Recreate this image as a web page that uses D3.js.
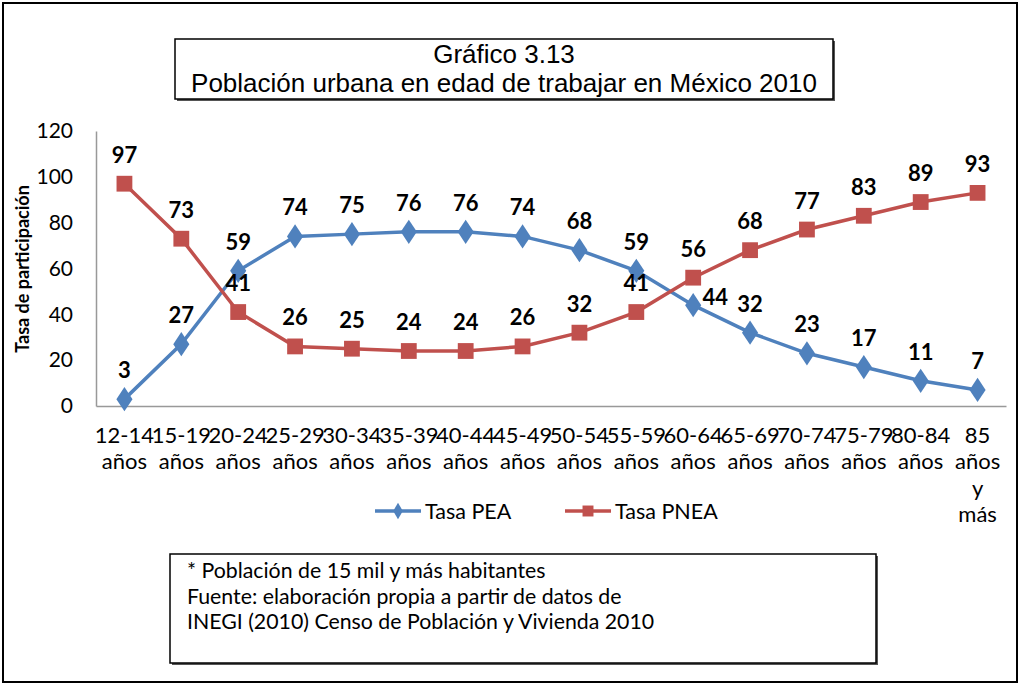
<!DOCTYPE html>
<html>
<script src='https://d3js.org/d3.v7.min.js'></script>
<style>
body {margin: 0; background: white;}
text {font-family: Lato, 'Open Sans', sans-serif; fill: black;}
.title {font-family: 'Liberation Sans', Arial, sans-serif; font-size: 26px;}
</style>
<body onload='init()'>
<script>
var categorias = ['12-14|años','15-19|años','20-24|años','25-29|años','30-34|años','35-39|años','40-44|años','45-49|años',
  '50-54|años','55-59|años','60-64|años','65-69|años','70-74|años','75-79|años','80-84|años','85|años|y|más'];
var tasaPEA  = [3,27,59,74,75,76,76,74,68,59,44,32,23,17,11,7];
var tasaPNEA = [97,73,41,26,25,24,24,26,32,41,56,68,77,83,89,93];
var yTicks = [0,20,40,60,80,100,120];
var notas = ['* Población de 15 mil y más habitantes',
  'Fuente: elaboración propia a partir de datos de',
  'INEGI (2010) Censo de Población y Vivienda 2010'];

function init() {

var svg = d3.select('body')
.append('svg')
.attr('width', 1020)
.attr('height', 684);

// marco exterior
svg.append('rect')
.attr('x', 3).attr('y', 3).attr('width', 1014).attr('height', 679)
.attr('fill', 'white').attr('stroke', 'black').attr('stroke-width', 2);

var x = d3.scaleBand().domain(categorias).range([96, 1006]);
var y = d3.scaleLinear().domain([0,120]).range([406,131]);
var cx = function(d, i){ return x(categorias[i]) + x.bandwidth()/2; };

// caja del titulo
svg.append('rect')
.attr('x', 177).attr('y', 41).attr('width', 658).attr('height', 60)
.attr('fill', '#555');
svg.append('rect')
.attr('x', 175).attr('y', 39).attr('width', 658).attr('height', 60)
.attr('fill', 'white').attr('stroke', 'black').attr('stroke-width', 1.5);
svg.append('text').attr('class','title')
.attr('x', 504).attr('y', 63).attr('text-anchor','middle')
.text('Gráfico 3.13');
svg.append('text').attr('class','title')
.attr('x', 504).attr('y', 92).attr('text-anchor','middle')
.text('Población urbana en edad de trabajar  en México 2010');

// ejes
var yAxis = svg.append('g')
.attr('transform','translate(96,0)')
.call(d3.axisLeft(y).tickValues(yTicks).tickSize(0).tickPadding(23));
yAxis.select('.domain').attr('stroke', '#999').attr('stroke-width', 1.5);
yAxis.selectAll('text').style('font-family','Lato').style('font-size','21px');

var xAxis = svg.append('g')
.attr('transform','translate(0,406)')
.call(d3.axisBottom(x).tickSize(0).tickFormat(''));
xAxis.select('.domain').attr('stroke', '#999').attr('stroke-width', 1.5);

xAxis.selectAll('.tick').each(function(d){
  var t = d3.select(this).select('text').text(null)
    .attr('y', 0).attr('dy', null)
    .style('font-family','Lato').style('font-size','22px');
  d.split('|').forEach(function(s, j){
    t.append('tspan').attr('x', 0).attr('y', 37 + j*26.3).text(s);
  });
});

svg.append('text')
.attr('transform','translate(29,269)rotate(-90)')
.attr('text-anchor','middle')
.style('font-size','18px').style('font-weight','bold')
.text('Tasa de participación');

// series
var series = [
  {nombre: 'Tasa PEA', valores: tasaPEA, color: '#4F81BD', simbolo: d3.symbolDiamond, tam: 170},
  {nombre: 'Tasa PNEA', valores: tasaPNEA, color: '#C0504D', simbolo: d3.symbolSquare, tam: 250}
];

var linea = d3.line().x(cx).y(function(d){ return y(d); });

series.forEach(function(s){
  svg.append('path')
  .datum(s.valores)
  .attr('d', linea)
  .attr('fill','none')
  .attr('stroke', s.color)
  .attr('stroke-width', 3.5);

  svg.append('g').selectAll('path')
  .data(s.valores)
  .enter()
  .append('path')
  .attr('d', d3.symbol().type(s.simbolo).size(s.tam))
  .attr('transform', function(d,i){ return 'translate(' + cx(d,i) + ',' + y(d) + ')' + (s.simbolo === d3.symbolDiamond ? 'scale(1.15,1)' : ''); })
  .attr('fill', s.color);

  // el 44 va a la derecha del punto
  svg.append('g').selectAll('text')
  .data(s.valores)
  .enter()
  .append('text')
  .attr('x', function(d,i){ return cx(d,i) + ((s.nombre === 'Tasa PEA' && i === 10) ? 22 : 0); })
  .attr('y', function(d,i){ return y(d) - ((s.nombre === 'Tasa PEA' && i === 10) ? 0 : 21); })
  .attr('text-anchor','middle')
  .style('font-size','22px').style('font-weight','bold')
  .text(function(d){ return d; });
});

// leyenda
var ley = [{x: 375, s: series[0]}, {x: 565, s: series[1]}];
ley.forEach(function(l){
  svg.append('line')
  .attr('x1', l.x).attr('x2', l.x + 46).attr('y1', 511).attr('y2', 511)
  .attr('stroke', l.s.color).attr('stroke-width', 3.5);
  svg.append('path')
  .attr('d', d3.symbol().type(l.s.simbolo).size(l.s.simbolo === d3.symbolDiamond ? 80 : 120))
  .attr('transform', 'translate(' + (l.x + 23) + ',511)')
  .attr('fill', l.s.color);
  svg.append('text')
  .attr('x', l.x + 50).attr('y', 519)
  .style('font-size','21.5px')
  .text(l.s.nombre);
});

// caja de notas
svg.append('rect')
.attr('x', 172).attr('y', 556).attr('width', 706).attr('height', 109)
.attr('fill', '#555');
svg.append('rect')
.attr('x', 170).attr('y', 554).attr('width', 706).attr('height', 109)
.attr('fill', 'white').attr('stroke', 'black').attr('stroke-width', 1.5);
svg.append('g').selectAll('text')
.data(notas)
.enter()
.append('text')
.attr('x', 187)
.attr('y', function(d,i){ return 578 + i*25.5; })
.style('font-size','21.3px')
.text(function(d){ return d; });

}
</script>
</body>
</html>
